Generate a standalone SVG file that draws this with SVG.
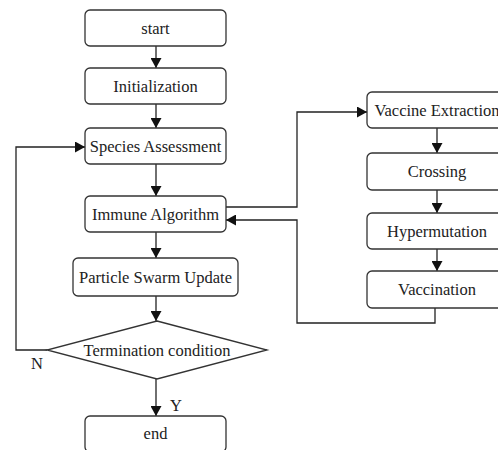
<svg xmlns="http://www.w3.org/2000/svg" width="498" height="450" viewBox="0 0 498 450">
<style>
.box{fill:#fff;stroke:#333;stroke-width:1.3}
.t{font-family:'Liberation Serif','Times New Roman',serif;font-size:16.5px;fill:#222;text-anchor:middle}
.c{fill:none;stroke:#222;stroke-width:1.3;marker-end:url(#arr)}
</style>
<defs>
<marker id="arr" markerUnits="userSpaceOnUse" markerWidth="10" markerHeight="11" refX="10" refY="5.5" orient="auto">
<path d="M0,0 L10,5.5 L0,11 z" fill="#111"/>
</marker>
</defs>
<rect width="498" height="450" fill="#fff"/>
<g id="connectors">
<path class="c" d="M156,46 V68"/>
<path class="c" d="M156,104 V128"/>
<path class="c" d="M156,164 V196"/>
<path class="c" d="M156,232 V258"/>
<path class="c" d="M156,296 V321"/>
<path class="c" d="M156,379 V416"/>
<path class="c" d="M47,350 H16 V147 H85"/>
<path class="c" d="M226,207 H297 V112 H367"/>
<path class="c" d="M437,128 V153"/>
<path class="c" d="M437,190 V213"/>
<path class="c" d="M437,249 V271"/>
<path class="c" d="M435,308 V323 H297 V220 H226"/>
</g>
<g font-family="Liberation Serif, Times New Roman, serif">
<g id="start"><rect class="box" x="85" y="10" width="141" height="36" rx="5"/><text class="t" x="155.5" y="33.5">start</text></g>
<g id="init"><rect class="box" x="85" y="68" width="141" height="36" rx="5"/><text class="t" x="155.5" y="91.5">Initialization</text></g>
<g id="species"><rect class="box" x="85" y="128" width="141" height="36" rx="5"/><text class="t" x="155.5" y="151.5">Species Assessment</text></g>
<g id="immune"><rect class="box" x="85" y="196" width="141" height="36" rx="5"/><text class="t" x="155.5" y="219.5">Immune Algorithm</text></g>
<g id="pso"><rect class="box" x="73" y="258" width="165" height="38" rx="5"/><text class="t" x="155.5" y="282.5">Particle Swarm Update</text></g>
<g id="term"><polygon class="box" points="157,321 267,350 157,379 47,350"/><text class="t" x="157" y="355.5">Termination condition</text></g>
<g id="end"><rect class="box" x="85" y="416" width="141" height="36" rx="5"/><text class="t" x="155.5" y="439">end</text></g>
<g id="labelN"><text class="t" x="37" y="368.5">N</text></g>
<g id="labelY"><text class="t" x="176" y="411">Y</text></g>
<g id="vaccext"><rect class="box" x="367" y="92" width="141" height="36" rx="5"/><text class="t" x="437" y="115.5">Vaccine Extraction</text></g>
<g id="crossing"><rect class="box" x="367" y="153" width="141" height="37" rx="5"/><text class="t" x="437" y="177">Crossing</text></g>
<g id="hyper"><rect class="box" x="367" y="213" width="141" height="36" rx="5"/><text class="t" x="437" y="236.5">Hypermutation</text></g>
<g id="vaccination"><rect class="box" x="367" y="271" width="141" height="37" rx="5"/><text class="t" x="437" y="295">Vaccination</text></g>
</g>
</svg>
